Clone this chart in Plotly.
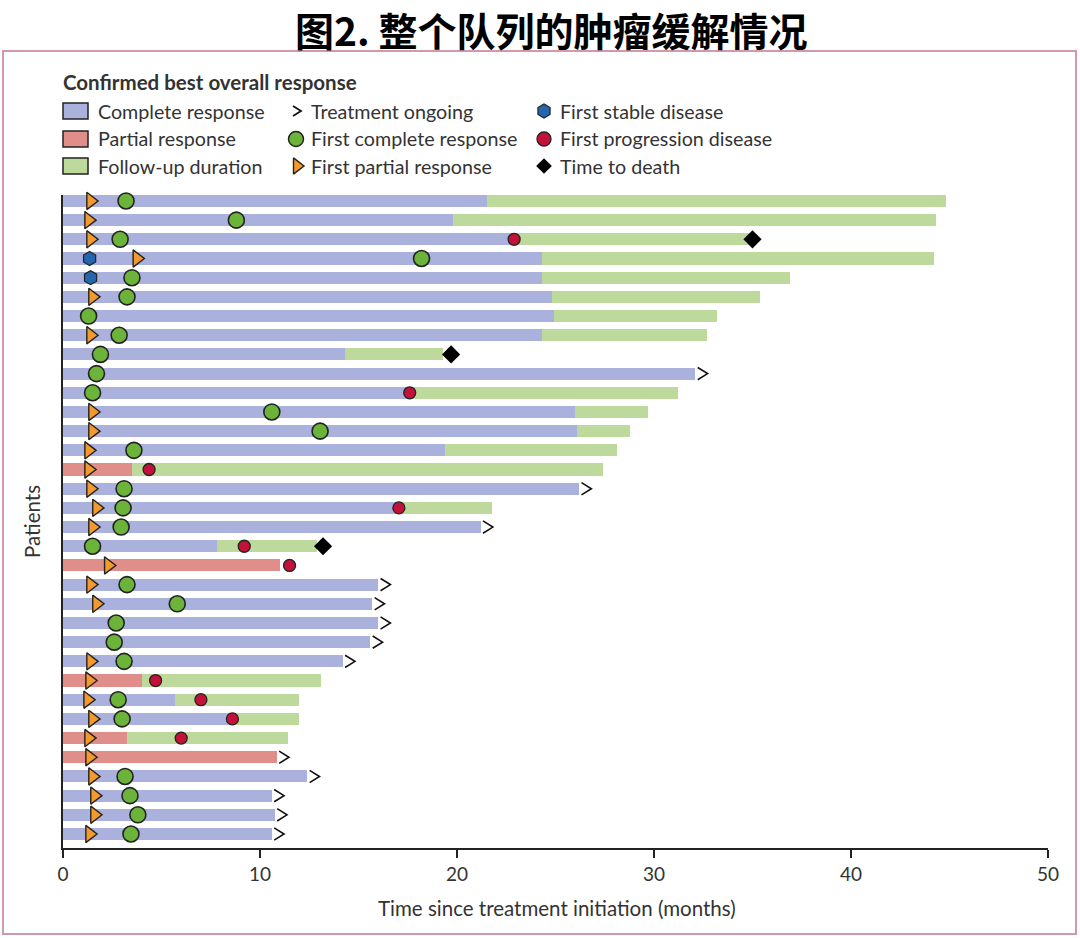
import plotly.graph_objects as go

# ---------------- data (months) ----------------
patients = list(range(1, 35))
resp_type = ['CR', 'CR', 'CR', 'CR', 'CR', 'CR', 'CR', 'CR', 'CR', 'CR',
             'CR', 'CR', 'CR', 'CR', 'PR', 'CR', 'CR', 'CR', 'CR', 'PR',
             'CR', 'CR', 'CR', 'CR', 'CR', 'PR', 'CR', 'CR', 'PR', 'PR',
             'CR', 'CR', 'CR', 'CR']
resp_end = [21.5, 19.8, 22.9, 24.3, 24.3, 24.8, 24.9, 24.3, 14.3, 32.1,
            17.6, 26.0, 26.1, 19.4, 3.5, 26.2, 17.05, 21.2, 7.8, 11.0,
            16.0, 15.7, 16.0, 15.6, 14.2, 4.0, 5.7, 8.6, 3.25, 10.85,
            12.4, 10.6, 10.75, 10.6]
followup_end = [44.8, 44.3, 34.8, 44.2, 36.9, 35.4, 33.2, 32.7, 19.3, None,
                31.2, 29.7, 28.8, 28.1, 27.4, None, 21.8, None, 12.9, None,
                None, None, None, None, None, 13.1, 12.0, 12.0, 11.4, None,
                None, None, None, None]
ongoing = [False, False, False, False, False, False, False, False, False, True,
           False, False, False, False, False, True, False, True, False, False,
           True, True, True, True, True, False, False, False, False, True,
           True, True, True, True]
first_pr = [1.4, 1.3, 1.4, 3.75, None, 1.5, None, 1.4, None, None,
            None, 1.5, 1.5, 1.3, 1.3, 1.4, 1.7, 1.5, None, 2.3,
            1.4, 1.7, None, None, 1.4, 1.35, 1.25, 1.5, 1.3, 1.35,
            1.5, 1.6, 1.6, 1.35]
first_cr = [3.2, 8.8, 2.9, 18.2, 3.5, 3.25, 1.3, 2.85, 1.9, 1.7,
            1.5, 10.6, 13.05, 3.6, None, 3.1, 3.05, 2.95, 1.5, None,
            3.25, 5.8, 2.7, 2.6, 3.1, None, 2.8, 3.0, None, None,
            3.15, 3.4, 3.8, 3.45]
first_sd = [None, None, None, 1.35, 1.4] + [None] * 29
first_pd = [None, None, 22.9, None, None, None, None, None, None, None,
            17.6, None, None, None, 4.37, None, 17.05, None, 9.2, 11.5,
            None, None, None, None, None, 4.7, 7.0, 8.6, 6.0, None,
            None, None, None, None]
death = [None, None, 35.0, None, None, None, None, None, 19.7, None,
         None, None, None, None, None, None, None, None, 13.2, None,
         None, None, None, None, None, None, None, None, None, None,
         None, None, None, None]
x_ticks = [0, 10, 20, 30, 40, 50]

legend_bars = ['Complete response', 'Partial response', 'Follow-up duration']
legend_col2 = ['Treatment ongoing', 'First complete response', 'First partial response']
legend_col3 = ['First stable disease', 'First progression disease', 'Time to death']

# ---------------- styles ----------------
C_CR = '#a9b1dc'
C_PR = '#df8e8a'
C_FU = '#bdd99b'
C_PRM = '#f49a2c'
C_CRM = '#6cb33a'
C_SD = '#2366ad'
C_PD = '#c3113a'
OUT = '#222222'
TXT = '#333333'
FONT = 'Lato'

W, H = 1080, 938
L, R, T, B = 63, 32, 0, 90
PLOT_TOP = 195          # pixel top of the main plot area
LEG_TOP, LEG_BOT = 60, 180


def px(xp):
    return (xp - L) / (W - L - R)


def py(yp):
    return (H - B - yp) / (H - T - B)


fig = go.Figure()
BW = 0.63

cr_idx = [i for i, t in enumerate(resp_type) if t == 'CR']
pr_idx = [i for i, t in enumerate(resp_type) if t == 'PR']
fig.add_trace(go.Bar(orientation='h', y=[patients[i] for i in cr_idx],
                     x=[resp_end[i] for i in cr_idx], base=0, width=BW,
                     marker=dict(color=C_CR, line=dict(width=0)), showlegend=False))
fig.add_trace(go.Bar(orientation='h', y=[patients[i] for i in pr_idx],
                     x=[resp_end[i] for i in pr_idx], base=0, width=BW,
                     marker=dict(color=C_PR, line=dict(width=0)), showlegend=False))
fu_idx = [i for i, f in enumerate(followup_end) if f is not None]
fig.add_trace(go.Bar(orientation='h', y=[patients[i] for i in fu_idx],
                     x=[followup_end[i] - resp_end[i] for i in fu_idx],
                     base=[resp_end[i] for i in fu_idx], width=BW,
                     marker=dict(color=C_FU, line=dict(width=0)), showlegend=False))


def pts(vals):
    idx = [i for i, v in enumerate(vals) if v is not None]
    return [vals[i] for i in idx], [patients[i] for i in idx]


# "treatment ongoing" chevrons drawn as thin lines at the end of the bars
CH_GAP, CH_W, CH_H = 0.12, 0.5, 0.32
chx, chy = [], []
for i in range(len(patients)):
    if ongoing[i]:
        e = resp_end[i]
        p = patients[i]
        chx += [e + CH_GAP, e + CH_GAP + CH_W, e + CH_GAP, None]
        chy += [p - CH_H, p, p + CH_H, None]
fig.add_trace(go.Scatter(x=chx, y=chy, mode='lines', line=dict(color='#111111', width=1.6),
                         showlegend=False, cliponaxis=False))

for vals, sym, size, col, lw in [
        (first_pd, 'circle', 12, C_PD, 1.3),
        (first_cr, 'circle', 16, C_CRM, 1.6),
        (first_pr, 'triangle-right', 15, C_PRM, 1.4),
        (first_sd, 'hexagon', 14, C_SD, 1.2),
        (death, 'diamond', 14, '#000000', 0)]:
    xs, ys = pts(vals)
    fig.add_trace(go.Scatter(x=xs, y=ys, mode='markers',
                             marker=dict(symbol=sym, size=size, color=col, opacity=1,
                                         line=dict(color=OUT, width=lw)),
                             showlegend=False, cliponaxis=False))

# ---------------- legend (manual, in its own pixel-unit subplot) ----------------
leg_rows = [111, 139, 166]
c2x, c3x = 297, 544
lg_sym_x = [c2x - 1, c2x, c3x, c3x, c3x]
lg_sym_y = [leg_rows[1], leg_rows[2], leg_rows[0], leg_rows[1], leg_rows[2]]
lg_sym = ['circle', 'triangle-right', 'hexagon', 'circle', 'diamond']
lg_col = [C_CRM, C_PRM, C_SD, C_PD, '#000000']
lg_size = [15, 14, 14, 14, 12]
lg_lw = [1.5, 1.4, 1.2, 1.3, 0]
fig.add_trace(go.Scatter(x=lg_sym_x, y=lg_sym_y, mode='markers', xaxis='x2', yaxis='y2',
                         marker=dict(symbol=lg_sym, size=lg_size, color=lg_col, opacity=1,
                                     line=dict(color=OUT, width=lg_lw)),
                         showlegend=False, cliponaxis=False))
fig.add_trace(go.Scatter(x=[c2x - 4, c2x + 4, c2x - 4], y=[leg_rows[0] - 5, leg_rows[0], leg_rows[0] + 5],
                         mode='lines', xaxis='x2', yaxis='y2',
                         line=dict(color='#111111', width=1.8), showlegend=False, cliponaxis=False))

shapes = []
for yy, col in zip(leg_rows, [C_CR, C_PR, C_FU]):
    shapes.append(dict(type='rect', xref='paper', yref='paper',
                       x0=px(63), x1=px(88), y0=py(yy + 8), y1=py(yy - 8),
                       fillcolor=col, line=dict(color=OUT, width=1.5)))
shapes.append(dict(type='rect', xref='paper', yref='paper',
                   x0=px(3), x1=px(1076), y0=py(934), y1=py(51),
                   fillcolor='rgba(0,0,0,0)', line=dict(color='#cf9aab', width=2)))

annotations = []
annotations.append(dict(text='<b>Confirmed best overall response</b>', xref='paper', yref='paper',
                        x=px(61), y=py(82), xanchor='left', yanchor='middle', showarrow=False,
                        font=dict(family=FONT, size=20.5, color=TXT)))
for r in range(3):
    for t, xx in [(legend_bars[r], 96), (legend_col2[r], 309), (legend_col3[r], 558)]:
        annotations.append(dict(text=t, xref='paper', yref='paper', x=px(xx), y=py(leg_rows[r]),
                                xanchor='left', yanchor='middle', showarrow=False,
                                font=dict(family=FONT, size=19.7, color=TXT)))
annotations.append(dict(text='Time since treatment initiation (months)', xref='paper', yref='paper',
                        x=px(557), y=py(908), xanchor='center', yanchor='middle', showarrow=False,
                        font=dict(family=FONT, size=20.5, color=TXT)))
annotations.append(dict(text='Patients', xref='paper', yref='paper', textangle=-90,
                        x=px(32), y=py(522), xanchor='center', yanchor='middle', showarrow=False,
                        font=dict(family=FONT, size=20.5, color=TXT)))
annotations.append(dict(text='<b>图2. 整个队列的肿瘤缓解情况</b>', xref='paper', yref='paper',
                        x=px(551), y=py(29), xanchor='center', yanchor='middle', showarrow=False,
                        font=dict(family='Noto Sans CJK SC', size=39, color='#000000')))

fig.update_layout(
    width=W, height=H, margin=dict(l=L, r=R, t=T, b=B),
    paper_bgcolor='white', plot_bgcolor='white',
    barmode='overlay', bargap=0,
    shapes=shapes, annotations=annotations,
    xaxis=dict(range=[0, 50], tickvals=x_ticks, ticks='outside', ticklen=8, tickwidth=1.5,
               tickcolor='#222', showline=True, linecolor='#222', linewidth=1.5,
               showgrid=False, zeroline=False, anchor='y',
               tickfont=dict(family=FONT, size=19, color=TXT)),
    yaxis=dict(domain=[0, py(PLOT_TOP)], range=[34.73, 0.69], showline=True, linecolor='#222',
               linewidth=1.5, showticklabels=False, ticks='', showgrid=False, zeroline=False,
               anchor='x'),
    xaxis2=dict(domain=[0, 1], range=[L, W - R], anchor='y2', visible=False),
    yaxis2=dict(domain=[py(LEG_BOT), py(LEG_TOP)], range=[LEG_BOT, LEG_TOP], anchor='x2',
                visible=False),
)

fig.write_html('out.html', config={'displayModeBar': False},
               post_script="document.body.style.margin='0';")
